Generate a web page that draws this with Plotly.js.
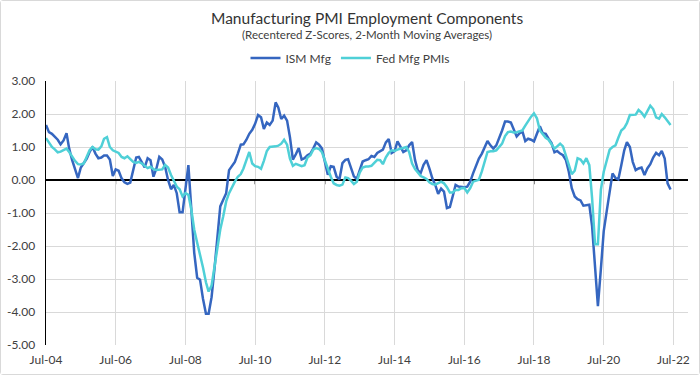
<!DOCTYPE html>
<html>
<head>
<meta charset="utf-8">
<script src="https://cdn.plot.ly/plotly-3.0.1.min.js"></script>
<style>
  html, body { margin: 0; padding: 0; background: #fff; }
  #chart { width: 698px; height: 373px; border: 1px solid #d9d9d9; border-radius: 3px; }
</style>
</head>
<body>
<div id="chart"></div>
<script>
// Monthly observations, Jul-2004 through Jun-2022
const startMonth = '2004-07';
const ismMfg = [
  1.67, 1.45, 1.40, 1.30, 1.22, 1.08, 1.20, 1.42, 0.95, 0.60, 0.30, 0.06,
  0.38, 0.50, 0.65, 0.85, 1.00, 0.80, 0.66, 0.68, 0.74, 0.74, 0.62, 0.12,
  0.32, 0.28, 0.05, -0.07, -0.12, -0.08, 0.30, 0.68, 0.70, 0.52, 0.38, 0.66,
  0.60, 0.10, 0.35, 0.70, 0.62, 0.40, 0.00, -0.28, -0.15, -0.40, -0.98, -0.98,
  -0.20, 0.45, -0.90, -2.20, -2.96, -3.02, -3.60, -4.05, -4.05, -3.55, -2.70, -1.70,
  -0.80, -0.60, -0.40, 0.30, 0.42, 0.55, 0.80, 1.07, 1.08, 1.22, 1.40, 1.52,
  1.70, 1.97, 1.90, 1.55, 1.74, 1.67, 1.80, 2.35, 2.20, 1.85, 1.95, 1.80,
  1.30, 0.62, 0.78, 0.97, 0.62, 0.66, 0.75, 0.80, 0.95, 1.14, 1.07, 0.95,
  0.55, 0.16, 0.42, 0.40, 0.10, 0.02, 0.51, 0.61, 0.63, 0.35, 0.11, 0.03,
  0.30, 0.56, 0.60, 0.63, 0.73, 0.70, 0.82, 0.87, 0.92, 1.14, 1.24, 0.82,
  0.87, 1.17, 1.02, 0.85, 0.90, 1.05, 1.15, 0.60, 0.30, 0.21, 0.46, 0.60,
  0.35, 0.05, -0.15, -0.42, -0.26, -0.35, -0.85, -0.82, -0.50, -0.15, -0.20, -0.22,
  -0.22, -0.20, -0.05, 0.20, 0.45, 0.65, 0.80, 1.02, 1.18, 1.05, 0.95, 1.05,
  1.25, 1.50, 1.77, 1.77, 1.74, 1.55, 1.32, 1.42, 1.48, 1.18, 1.25, 1.22,
  1.17, 1.40, 1.63, 1.42, 1.40, 1.25, 1.12, 0.84, 0.88, 0.80, 0.75, 0.60,
  0.25, -0.25, -0.50, -0.58, -0.62, -0.78, -0.76, -0.75, -1.40, -2.80, -3.82, -2.70,
  -1.55, -0.95, -0.28, 0.20, 0.06, 0.02, 0.45, 0.90, 1.15, 1.00, 0.55, 0.30,
  0.35, 0.38, 0.15, 0.35, 0.48, 0.68, 0.82, 0.75, 0.88, 0.65, -0.10, -0.29
];
const fedMfg = [
  1.27, 1.12, 1.00, 0.93, 0.84, 0.86, 0.90, 0.95, 0.85, 0.70, 0.58, 0.48,
  0.47, 0.50, 0.70, 0.90, 1.00, 0.93, 0.92, 1.02, 1.25, 1.30, 1.00, 0.90,
  0.86, 0.82, 0.70, 0.66, 0.72, 0.64, 0.55, 0.52, 0.55, 0.50, 0.42, 0.36,
  0.40, 0.33, 0.30, 0.30, 0.32, 0.46, 0.38, 0.15, 0.00, -0.20, -0.28, -0.50,
  -0.40, -0.45, -0.90, -1.50, -1.90, -2.25, -2.65, -3.10, -3.38, -3.20, -2.60, -2.00,
  -1.50, -1.10, -0.65, -0.40, -0.20, -0.05, 0.10, 0.18, 0.35, 0.60, 0.85, 0.50,
  0.42, 0.40, 0.34, 0.58, 0.88, 1.00, 1.00, 1.02, 1.04, 1.10, 1.22, 1.07,
  0.65, 0.43, 0.49, 0.45, 0.42, 0.45, 0.68, 0.75, 0.92, 0.97, 0.94, 0.84,
  0.60, 0.32, 0.10, -0.10, -0.15, -0.17, -0.14, 0.08, 0.06, -0.02, -0.12, -0.05,
  0.22, 0.38, 0.41, 0.41, 0.43, 0.52, 0.61, 0.60, 0.48, 0.69, 0.82, 0.90,
  0.88, 0.92, 0.95, 0.97, 1.00, 0.85, 0.50, 0.33, 0.22, 0.12, 0.08, 0.03,
  -0.07, -0.12, -0.14, -0.10, -0.05, -0.10, -0.22, -0.38, -0.38, -0.30, -0.30, -0.25,
  -0.24, -0.38, -0.25, -0.05, -0.02, 0.01, 0.26, 0.60, 0.85, 0.87, 0.87, 0.90,
  1.00, 1.10, 1.33, 1.45, 1.47, 1.44, 1.45, 1.47, 1.50, 1.65, 1.80, 1.92,
  2.02, 1.87, 1.50, 1.38, 1.28, 1.22, 1.07, 0.95, 1.02, 1.10, 1.02, 0.72,
  0.42, 0.18, 0.28, 0.66, 0.62, 0.50, 0.66, 0.45, -0.55, -1.95, -1.95, -0.30,
  0.25, 0.55, 0.92, 1.00, 1.05, 1.28, 1.50, 1.58, 1.72, 1.97, 1.98, 1.98,
  2.12, 2.04, 1.92, 2.10, 2.25, 2.15, 1.90, 1.86, 2.00, 1.90, 1.78, 1.67
];
const seriesNames = ['ISM Mfg', 'Fed Mfg PMIs'];
const titleText = 'Manufacturing PMI Employment Components';
const subtitleText = '(Recentered Z-Scores, 2-Month Moving Averages)';
const yTickVals = [-5, -4, -3, -2, -1, 0, 1, 2, 3];
const yTickText = ['-5.00', '-4.00', '-3.00', '-2.00', '-1.00', '0.00', '1.00', '2.00', '3.00'];
const xTickVals = ['2004-07-01','2006-07-01','2008-07-01','2010-07-01','2012-07-01','2014-07-01','2016-07-01','2018-07-01','2020-07-01','2022-07-01'];
const xTickText = ['Jul-04','Jul-06','Jul-08','Jul-10','Jul-12','Jul-14','Jul-16','Jul-18','Jul-20','Jul-22'];

// month sequence for the x axis
const dates = [];
(function () {
  let y = parseInt(startMonth.slice(0, 4), 10), m = parseInt(startMonth.slice(5, 7), 10);
  for (let i = 0; i < ismMfg.length; i++) {
    dates.push(y + '-' + String(m).padStart(2, '0') + '-01');
    m++; if (m > 12) { m = 1; y++; }
  }
})();

const traces = [
  { x: dates, y: ismMfg, name: seriesNames[0], type: 'scatter', mode: 'lines',
    line: { color: '#3566C0', width: 2.5 } },
  { x: dates, y: fedMfg, name: seriesNames[1], type: 'scatter', mode: 'lines',
    line: { color: '#4FD0D7', width: 2.5 } }
];

// small tick marks where the category axis crosses at zero
const zeroTicks = xTickVals.slice(1).map(function (d) {
  return { type: 'line', xref: 'x', yref: 'y', x0: d, x1: d, y0: 0, y1: -0.13,
    line: { color: '#000000', width: 1 }, layer: 'below' };
});

const H = 373;
const layout = {
  width: 698, height: H,
  margin: { l: 45, r: 11, t: 80, b: 29 },
  paper_bgcolor: '#ffffff', plot_bgcolor: '#ffffff',
  font: { family: 'Lato, "Open Sans", sans-serif', color: '#404040', size: 12 },
  annotations: [
    { text: titleText, xref: 'paper', yref: 'paper', x: 0.5, xanchor: 'center',
      y: (H - 29 - 17) / (H - 80 - 29), yanchor: 'middle', showarrow: false,
      font: { family: 'Lato, sans-serif', size: 15.5, color: '#333333' } },
    { text: subtitleText, xref: 'paper', yref: 'paper', x: 0.5, xanchor: 'center',
      y: (H - 29 - 34) / (H - 80 - 29), yanchor: 'middle', showarrow: false,
      font: { family: 'Lato, sans-serif', size: 11.5, color: '#404040' } }
  ],
  shapes: zeroTicks,
  showlegend: true,
  legend: { orientation: 'h', xref: 'container', x: 0.5, xanchor: 'center',
    yref: 'container', y: 1 - 57 / H, yanchor: 'middle',
    font: { size: 12, color: '#404040' }, itemwidth: 30, tracegroupgap: 0 },
  xaxis: {
    type: 'date',
    range: ['2004-07-01', '2022-12-01'],
    tickvals: xTickVals, ticktext: xTickText,
    showgrid: true, gridcolor: '#d9d9d9', gridwidth: 1,
    showline: false, zeroline: false, ticks: '',
    ticklabelstandoff: 6,
    tickfont: { size: 12, color: '#404040' },
    fixedrange: true
  },
  yaxis: {
    range: [-5, 3],
    tickvals: yTickVals, ticktext: yTickText,
    showgrid: true, gridcolor: '#d9d9d9', gridwidth: 1,
    showline: true, linecolor: '#000000', linewidth: 1.5,
    zeroline: true, zerolinecolor: '#000000', zerolinewidth: 1.5,
    ticks: '', ticklabelstandoff: 7,
    tickfont: { size: 12, color: '#404040' },
    fixedrange: true
  }
};

Plotly.newPlot('chart', traces, layout, { displayModeBar: false, staticPlot: true });
</script>
</body>
</html>
